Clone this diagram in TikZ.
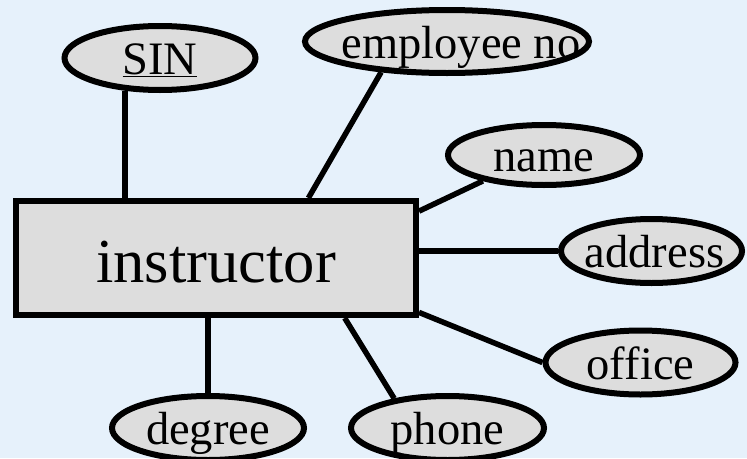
\documentclass[tikz,border=0pt]{standalone}
\usepackage{fontspec}
\setmainfont{Liberation Serif}
\usetikzlibrary{shapes.geometric}
\definecolor{bgblue}{RGB}{230,241,251}
\definecolor{boxgray}{RGB}{221,221,221}
\begin{document}
\begin{tikzpicture}[x=1pt,y=-1pt,
  entity/.style={draw=black, fill=boxgray, line width=6pt, rectangle,
    minimum width=400pt, minimum height=114pt, inner sep=0pt,
    text height=48pt, text depth=0pt,
    font=\fontsize{62.6}{70}\selectfont},
  attr/.style 2 args={draw=black, fill=boxgray, line width=6pt, ellipse,
    inner sep=0pt, minimum width=#1, minimum height=#2},
  attrtext/.style={font=\fontsize{46.5}{50}\selectfont, inner sep=0pt,
    text height=36pt, text depth=3pt},
  link/.style={line width=5.5pt}]
  % canvas
  \fill[bgblue] (0,0) rectangle (747,458);
  \useasboundingbox (0,0) rectangle (747,458);

  % entity set
  \node[entity] (inst) at (216,258) {instructor};

  % attribute ellipses
  \node[attr={191pt}{64pt}] (sin)   at (160,58)    {};
  \node[attr={284pt}{63pt}] (emp)   at (447,41.5)  {};
  \node[attr={192pt}{60pt}] (name)  at (544,155)   {};
  \node[attr={181pt}{64pt}] (addr)  at (651.5,251) {};
  \node[attr={190pt}{64pt}] (off)   at (640.5,362.5) {};
  \node[attr={192pt}{64pt}] (deg)   at (208,428)   {};
  \node[attr={193pt}{64pt}] (phone) at (447.5,428) {};

  % attribute names
  \node[attrtext] (sinlbl)   at (sin)   {\underline{SIN}};
  \node[attrtext] (emplbl)   at ([xshift=14pt]emp.center) {employee no};
  \node[attrtext] (namelbl)  at (name)  {name};
  \node[attrtext] (addrlbl)  at ([xshift=3pt]addr.center) {address};
  \node[attrtext] (offlbl)   at (off)   {office};
  \node[attrtext] (deglbl)   at (deg)   {degree};
  \node[attrtext] (phonelbl) at (phone) {phone};

  % connectors
  \draw[link] (sin.223) -- (sin.223 |- inst.north);
  \draw[link] (emp.205) -- (inst.33);
  \draw[link] (name.203) -- (inst.13);
  \draw[link] (addr.west) -- (addr.west -| inst.east);
  \draw[link] (off.west) -- (inst.345);
  \draw[link] (phone.151) -- (inst.335);
  \draw[link] (deg.north) -- (deg.north |- inst.south);
\end{tikzpicture}
\end{document}
